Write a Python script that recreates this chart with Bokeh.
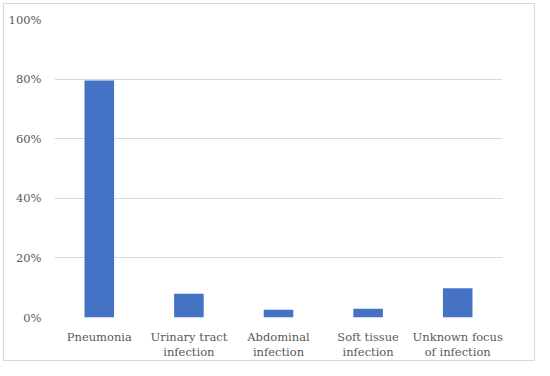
from bokeh.plotting import figure
from bokeh.models import Range1d, NumeralTickFormatter, FixedTicker, LinearAxis
from bokeh.embed import file_html
from bokeh.resources import INLINE

categories = ["Pneumonia", "Urinary tract infection", "Abdominal infection",
              "Soft tissue infection", "Unknown focus of infection"]
label_line1 = ["Pneumonia", "Urinary tract", "Abdominal", "Soft tissue", "Unknown focus"]
label_line2 = ["", "infection", "infection", "infection", "of infection"]
values = [0.795, 0.080, 0.026, 0.029, 0.098]
y_ticks = [0, 0.2, 0.4, 0.6, 0.8, 1.0]

FONT = "DejaVu Serif"
FONT_SIZE = "11.5px"
GRAY = "#595959"

xpos = [i + 0.5 for i in range(len(categories))]

p = figure(width=532, height=358, x_range=Range1d(0, len(categories)),
           y_range=Range1d(0, 1.0), output_backend="svg", toolbar_location=None,
           min_border_left=50, min_border_right=34, min_border_top=15,
           min_border_bottom=45, outline_line_color=None, x_axis_location=None,
           styles={"margin": "3px 0 0 3px", "border": "1px solid #d9d9d9"})

p.vbar(x=xpos, top=values, width=0.33, fill_color="#4472C4", line_color=None)

def style_axis(ax):
    ax.axis_line_color = None
    ax.major_tick_line_color = None
    ax.minor_tick_line_color = None
    ax.major_tick_out = 0
    ax.major_tick_in = 0
    ax.minor_tick_out = 0
    ax.minor_tick_in = 0
    ax.major_label_text_font = FONT
    ax.major_label_text_font_size = FONT_SIZE
    ax.major_label_text_color = GRAY

ax1 = LinearAxis(ticker=FixedTicker(ticks=xpos),
                 major_label_overrides={x: t for x, t in zip(xpos, label_line1)},
                 major_label_standoff=12)
ax2 = LinearAxis(ticker=FixedTicker(ticks=xpos),
                 major_label_overrides={x: t for x, t in zip(xpos, label_line2)},
                 major_label_standoff=-2)
style_axis(ax1)
style_axis(ax2)
p.add_layout(ax1, "below")
p.add_layout(ax2, "below")

p.yaxis.ticker = FixedTicker(ticks=y_ticks)
p.yaxis.formatter = NumeralTickFormatter(format="0%")
p.yaxis.major_label_standoff = 13
style_axis(p.yaxis[0])

p.xgrid.grid_line_color = None
p.ygrid.grid_line_color = "#d9d9d9"
p.ygrid.grid_line_width = 1

open("out.html", "w").write(file_html(p, INLINE))
